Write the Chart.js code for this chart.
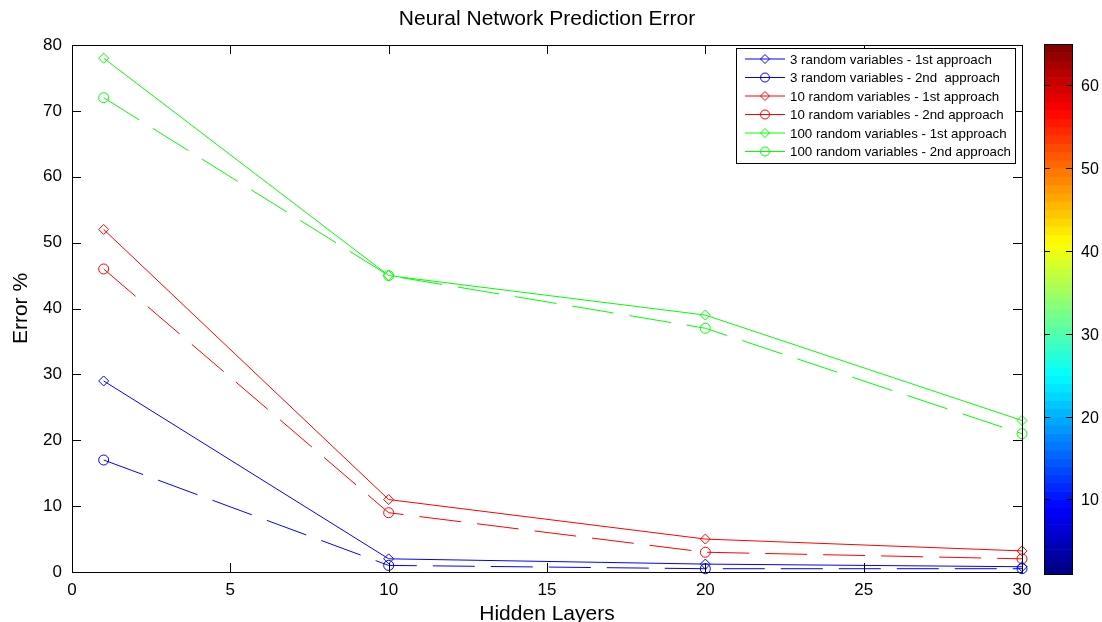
<!DOCTYPE html>
<html>
<head>
<meta charset="utf-8">
<script src="https://cdn.jsdelivr.net/npm/chart.js@4/dist/chart.umd.min.js"></script>
<style>
  html, body { margin: 0; padding: 0; background: #fff; }
  #wrap { width: 1102px; height: 622px; }
</style>
</head>
<body>
<div id="wrap"><canvas id="grafico" width="1102" height="622"></canvas></div>
<script>
// dados
const hiddenLayers = [1, 10, 20, 30];
const rede3_1 = [29, 2, 1.2, 0.8];
const rede3_2 = [17, 1, 0.5, 0.5];
const rede10_1 = [52, 11, 5, 3.2];
const rede10_2 = [46, 9, 3, 2];
const rede100_1 = [78, 45, 39, 23];
const rede100_2 = [72, 45, 37, 21];
const xTicks = [0, 5, 10, 15, 20, 25, 30];
const yTicks = [0, 10, 20, 30, 40, 50, 60, 70, 80];
const colorbarTicks = [10, 20, 30, 40, 50, 60];
const colorbarRange = [1, 65];

const FONTE = '"Liberation Sans", Arial, Helvetica, sans-serif';

function pontos(valores) {
    return valores.map((v, i) => ({ x: hiddenLayers[i], y: v }));
}

function serie(label, valores, cor, marcador, tracejado) {
    return {
        label: label,
        data: pontos(valores),
        borderColor: cor,
        borderWidth: 1,
        borderDash: tracejado ? [42, 16] : [],
        pointStyle: marcador,
        pointRadius: 5,
        pointBorderWidth: 1,
        pointBorderColor: cor,
        pointBackgroundColor: 'rgba(0,0,0,0)',
        tension: 0,
        clip: false
    };
}

function jet(t) {
    const c = v => Math.round(255 * Math.max(0, Math.min(1, v)));
    return `rgb(${c(1.5 - Math.abs(4 * t - 3))},${c(1.5 - Math.abs(4 * t - 2))},${c(1.5 - Math.abs(4 * t - 1))})`;
}

// caixa, ticks para dentro, legenda e barra de cores no estilo MATLAB
const estiloMatlab = {
    id: 'estiloMatlab',
    afterDatasetsDraw(chart) {
        const ctx = chart.ctx;
        const a = chart.chartArea;
        const sx = chart.scales.x, sy = chart.scales.y;
        ctx.save();
        ctx.strokeStyle = '#000';
        ctx.lineWidth = 1;
        ctx.setLineDash([]);
        ctx.strokeRect(a.left + 0.5, a.top + 0.5, a.right - a.left, a.bottom - a.top);
        const tl = 9;
        ctx.beginPath();
        xTicks.forEach(t => {
            const px = Math.round(sx.getPixelForValue(t)) + 0.5;
            ctx.moveTo(px, a.bottom); ctx.lineTo(px, a.bottom - tl);
            ctx.moveTo(px, a.top); ctx.lineTo(px, a.top + tl);
        });
        yTicks.forEach(t => {
            const py = Math.round(sy.getPixelForValue(t)) + 0.5;
            ctx.moveTo(a.left, py); ctx.lineTo(a.left + tl, py);
            ctx.moveTo(a.right, py); ctx.lineTo(a.right - tl, py);
        });
        ctx.stroke();

        // legenda
        const lx = 736, ly = 48, lw = 279, lh = 115;
        ctx.fillStyle = '#fff';
        ctx.fillRect(lx, ly, lw, lh);
        ctx.strokeRect(lx + 0.5, ly + 0.5, lw, lh);
        ctx.font = '13.3px ' + FONTE;
        ctx.textBaseline = 'middle';
        chart.data.datasets.forEach((ds, i) => {
            const y = ly + 11 + i * 18.5;
            ctx.strokeStyle = ds.borderColor;
            ctx.beginPath();
            ctx.moveTo(745, y); ctx.lineTo(785, y);
            ctx.stroke();
            ctx.fillStyle = 'rgba(0,0,0,0)';
            Chart.helpers.drawPoint(ctx, { pointStyle: ds.pointStyle, radius: 4.5, borderWidth: 1 }, 765, y);
            ctx.fillStyle = '#000';
            ctx.fillText(ds.label, 790, y + 1);
        });

        // barra de cores
        const cx = 1044, cw = 28, ct = 44, cb = 574;
        const n = 64;
        const hb = (cb - ct) / n;
        for (let k = 0; k < n; k++) {
            ctx.fillStyle = jet((k + 0.5) / n);
            ctx.fillRect(cx, cb - (k + 1) * hb, cw, hb + 0.6);
        }
        ctx.strokeStyle = '#000';
        ctx.strokeRect(cx + 0.5, ct + 0.5, cw, cb - ct);
        ctx.fillStyle = '#000';
        ctx.font = '16px ' + FONTE;
        ctx.textAlign = 'left';
        ctx.beginPath();
        colorbarTicks.forEach(t => {
            const py = Math.round(cb - (t - colorbarRange[0]) / (colorbarRange[1] - colorbarRange[0]) * (cb - ct)) + 0.5;
            ctx.moveTo(cx, py); ctx.lineTo(cx + 6, py);
            ctx.moveTo(cx + cw, py); ctx.lineTo(cx + cw - 6, py);
            ctx.fillText(String(t), cx + cw + 9, py + 1);
        });
        ctx.stroke();

        // título
        ctx.font = '21px ' + FONTE;
        ctx.textAlign = 'center';
        ctx.fillText('Neural Network Prediction Error', (a.left + a.right) / 2, 19);
        ctx.restore();
    }
};

new Chart(document.getElementById('grafico'), {
    type: 'line',
    data: {
        datasets: [
            serie('3 random variables - 1st approach', rede3_1, '#0000ff', 'rectRot', false),
            serie('3 random variables - 2nd  approach', rede3_2, '#0000ff', 'circle', true),
            serie('10 random variables - 1st approach', rede10_1, '#ff0000', 'rectRot', false),
            serie('10 random variables - 2nd approach', rede10_2, '#ff0000', 'circle', true),
            serie('100 random variables - 1st approach', rede100_1, '#00ff00', 'rectRot', false),
            serie('100 random variables - 2nd approach', rede100_2, '#00ff00', 'circle', true)
        ]
    },
    options: {
        responsive: false,
        animation: false,
        layout: { padding: { top: 45, right: 80, left: 0, bottom: 0 } },
        plugins: {
            legend: { display: false },
            title: { display: false },
            tooltip: { enabled: false }
        },
        scales: {
            x: {
                type: 'linear',
                min: 0,
                max: 30,
                afterFit(scale) { scale.height = 50; },
                afterBuildTicks(scale) { scale.ticks = xTicks.map(v => ({ value: v })); },
                grid: { display: false, drawTicks: false },
                border: { display: false },
                ticks: { padding: 8, color: '#000', font: { family: FONTE, size: 17 }, maxRotation: 0 },
                title: { display: true, text: 'Hidden Layers', color: '#000', font: { family: FONTE, size: 21 }, padding: { top: 0, bottom: -5 } }
            },
            y: {
                min: 0,
                max: 80,
                afterFit(scale) { scale.width = 72; },
                afterBuildTicks(scale) { scale.ticks = yTicks.map(v => ({ value: v })); },
                grid: { display: false, drawTicks: false },
                border: { display: false },
                ticks: { padding: 10, color: '#000', font: { family: FONTE, size: 17 } },
                title: { display: true, text: 'Error %', color: '#000', font: { family: FONTE, size: 21 }, padding: { top: 8.5, bottom: 0 } }
            }
        }
    },
    plugins: [estiloMatlab]
});
</script>
</body>
</html>
